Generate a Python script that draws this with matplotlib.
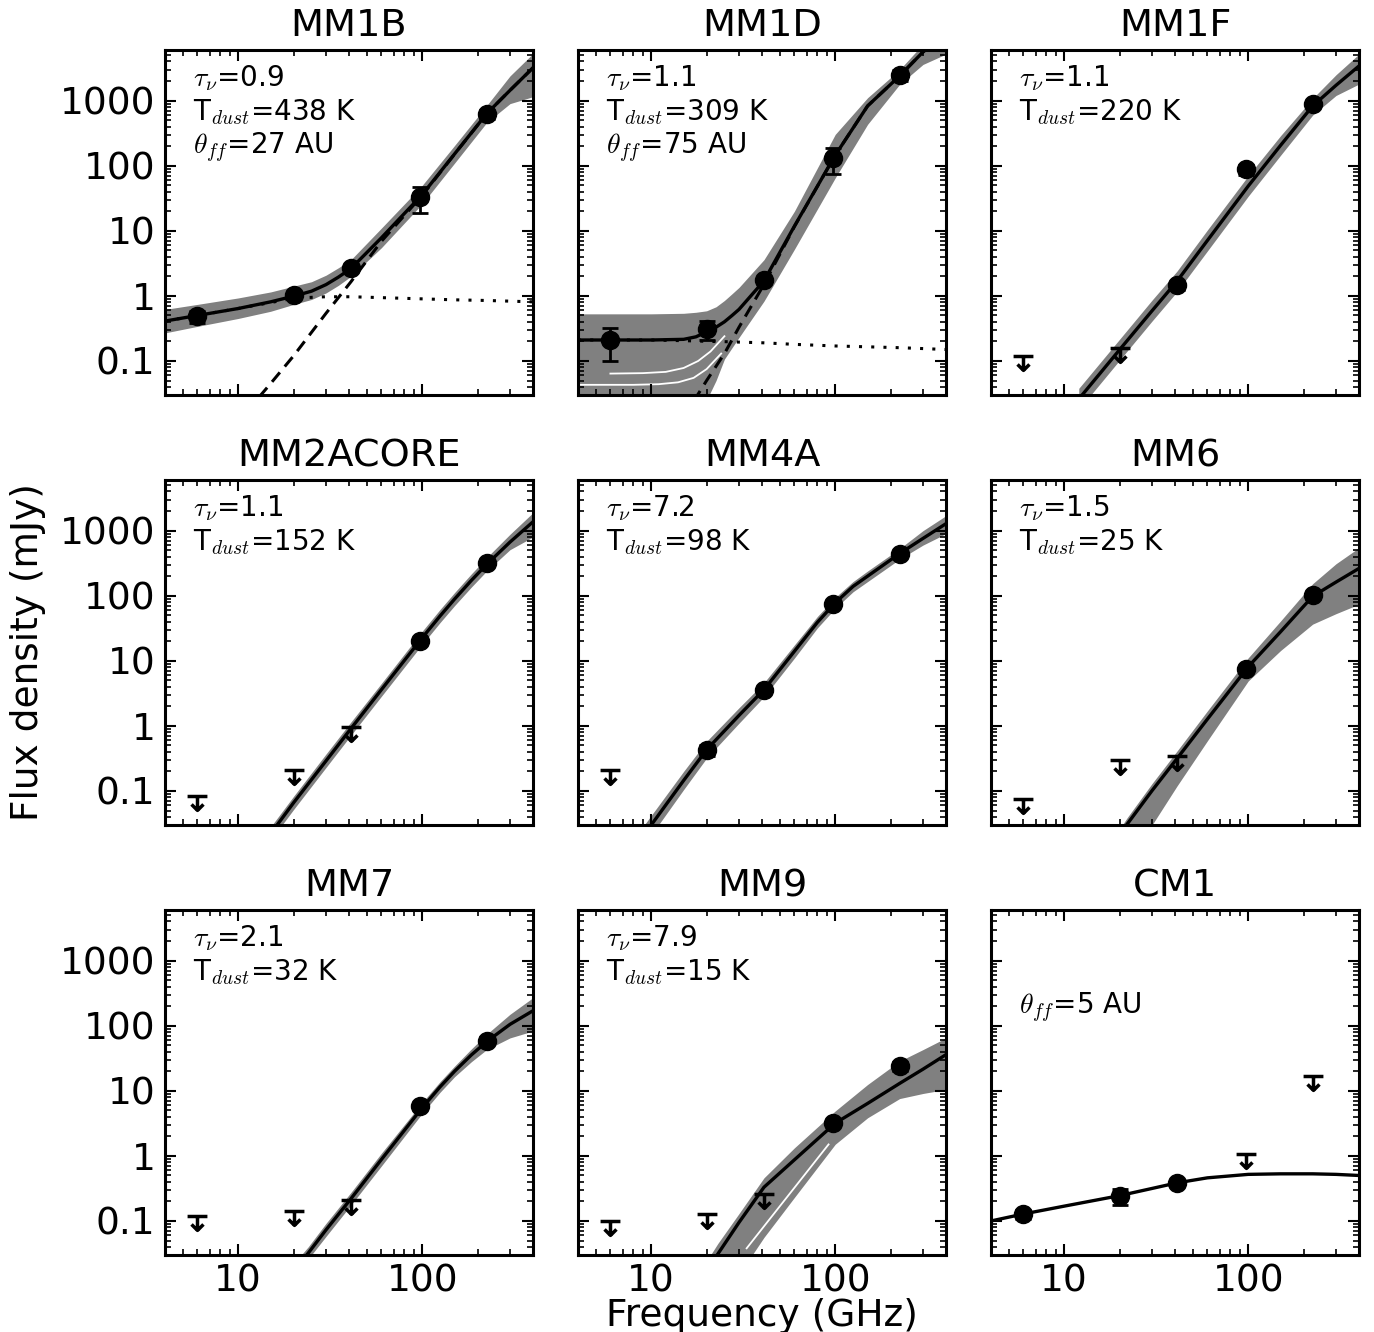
import matplotlib
matplotlib.use('Agg')
import matplotlib.pyplot as plt
from matplotlib.path import Path
from matplotlib.ticker import LogLocator, FuncFormatter, NullFormatter

plt.rcParams['font.family'] = 'DejaVu Sans'
plt.rcParams['mathtext.fontset'] = 'cm'

# ---- source names and fit parameters ----
names = ['MM1B', 'MM1D', 'MM1F', 'MM2ACORE', 'MM4A', 'MM6', 'MM7', 'MM9', 'CM1']
tau_txt = ['0.9', '1.1', '1.1', '1.1', '7.2', '1.5', '2.1', '7.9', None]
tdust_txt = ['438', '309', '220', '152', '98', '25', '32', '15', None]
theta_txt = ['27', '75', None, None, None, None, None, None, '5']

# ---- MM1B ----
mm1b_det_nu = [6.0, 20.0, 41.0, 97.0, 224.0]
mm1b_det_s = [0.49, 1.05, 2.7, 33, 630]
mm1b_det_err = [0.1, 0.1, 0.3, 14, 100]
mm1b_nu = [4, 6, 10, 15, 20, 25, 30, 35, 41, 60, 100, 150, 224, 300, 400]
mm1b_fit = [0.41, 0.50, 0.64, 0.81, 0.99, 1.18, 1.49, 1.94, 2.63, 7.8, 36, 152, 630, 1440, 3200]
mm1b_hi = [0.62, 0.74, 0.93, 1.15, 1.41, 1.65, 2.08, 2.7, 3.6, 11, 50, 205, 840, 2400, 5300]
mm1b_lo = [0.27, 0.34, 0.45, 0.58, 0.74, 0.88, 1.11, 1.45, 2.0, 5.5, 26, 110, 460, 900, 1150]
mm1b_ff = [0.41, 0.50, 0.64, 0.79, 0.92, 0.95, 0.97, 0.97, 0.97, 0.94, 0.90, 0.87, 0.85, 0.83, 0.81]
mm1b_dust_nu = [13, 15, 20, 30, 41, 60, 100, 150, 224, 300, 400]
mm1b_dust = [0.028, 0.045, 0.12, 0.54, 1.65, 6.9, 35, 151, 629, 1440, 3200]

# ---- MM1D ----
mm1d_det_nu = [6.0, 20.0, 41.0, 97.0, 224.0]
mm1d_det_s = [0.21, 0.31, 1.74, 130, 2480]
mm1d_det_err = [0.11, 0.1, 0.15, 55, 450]
mm1d_nu = [4, 6, 10, 15, 17.5, 20, 22.5, 25, 27.5, 30, 41, 60, 100, 150, 224, 300, 400]
mm1d_fit = [0.21, 0.21, 0.21, 0.215, 0.235, 0.28, 0.33, 0.40, 0.50, 0.62, 1.7, 11.8,
            145, 830, 2400, 5600, 11000]
mm1d_hi = [0.53, 0.53, 0.53, 0.54, 0.56, 0.59, 0.68, 0.85, 1.08, 1.35, 3.6, 20,
           303, 1110, 3000, 7400, 14000]
mm1d_lo = [0.02, 0.02, 0.02, 0.02, 0.02, 0.025, 0.05, 0.107, 0.16, 0.23, 0.83, 5.2,
           65, 433, 1780, 3600, 5200]
mm1d_ff = [0.21, 0.21, 0.21, 0.205, 0.203, 0.20, 0.199, 0.198, 0.197, 0.195, 0.19, 0.18,
           0.17, 0.165, 0.16, 0.155, 0.15]
mm1d_dust_nu = [17, 20, 25, 30, 41, 60, 100, 150, 224, 300, 400]
mm1d_dust = [0.024, 0.05, 0.13, 0.33, 1.5, 11.6, 145, 830, 2400, 5600, 11000]
mm1d_gap1_nu = [4, 8, 11, 14, 17, 20, 24]
mm1d_gap1 = [0.043, 0.043, 0.044, 0.047, 0.055, 0.075, 0.13]
mm1d_gap2_nu = [6, 9, 12, 15, 18, 21, 25]
mm1d_gap2 = [0.064, 0.065, 0.068, 0.078, 0.10, 0.14, 0.24]

# ---- MM1F ----
mm1f_det_nu = [41.0, 97.0, 224.0]
mm1f_det_s = [1.45, 88, 880]
mm1f_det_err = [0.2, 15, 80]
mm1f_lim_nu = [6.0, 20.0]
mm1f_lim_s = [0.12, 0.16]
mm1f_nu = [12, 20, 30, 41, 60, 100, 150, 224, 300, 400]
mm1f_fit = [0.026, 0.149, 0.59, 1.68, 7.1, 48.7, 206, 828, 1720, 3410]
mm1f_hi = [0.038, 0.216, 0.86, 2.4, 10.3, 70, 290, 1080, 2500, 5200]
mm1f_lo = [0.018, 0.103, 0.41, 1.16, 4.9, 34, 145, 600, 1200, 1800]

# ---- MM2ACORE ----
mm2a_det_nu = [97.0, 224.0]
mm2a_det_s = [20.1, 322]
mm2a_det_err = [2, 30]
mm2a_lim_nu = [6.0, 20.0, 41.0]
mm2a_lim_s = [0.085, 0.21, 0.97]
mm2a_nu = [15, 20, 30, 41, 60, 100, 125, 150, 185, 224, 300, 400]
mm2a_fit = [0.022, 0.066, 0.29, 0.91, 3.6, 22.6, 48.8, 89, 172, 303, 667, 1368]
mm2a_hi = [0.028, 0.083, 0.37, 1.15, 4.5, 28.5, 61.5, 112, 217, 385, 880, 1890]
mm2a_lo = [0.0175, 0.052, 0.23, 0.72, 2.85, 17.9, 38.7, 70.6, 136, 240, 510, 800]

# ---- MM4A ----
mm4a_det_nu = [20.0, 41.0, 97.0, 224.0]
mm4a_det_s = [0.43, 3.62, 73.6, 443]
mm4a_det_err = [0.08, 0.3, 6, 40]
mm4a_lim_nu = [6.0]
mm4a_lim_s = [0.21]
mm4a_nu = [9, 10, 15, 20, 30, 41, 60, 80, 100, 125, 150, 224, 300, 400]
mm4a_fit = [0.02, 0.03, 0.145, 0.43, 1.45, 3.6, 14, 39, 78, 139, 200, 445, 760, 1280]
mm4a_hi = [0.028, 0.042, 0.2, 0.58, 1.9, 4.6, 17.5, 48, 94, 165, 240, 530, 1000, 1700]
mm4a_lo = [0.014, 0.021, 0.105, 0.32, 1.1, 2.8, 11, 32, 64, 115, 165, 365, 600, 900]

# ---- MM6 ----
mm6_det_nu = [97.0, 224.0]
mm6_det_s = [7.5, 101]
mm6_det_err = [0.8, 12]
mm6_lim_nu = [6.0, 20.0, 41.0]
mm6_lim_s = [0.075, 0.30, 0.35]
mm6_nu = [20, 22, 30, 41, 60, 100, 150, 224, 300, 400]
mm6_fit = [0.022, 0.031, 0.101, 0.314, 1.27, 8.1, 28, 98, 162, 263]
mm6_hi = [0.026, 0.039, 0.13, 0.41, 1.7, 11.1, 41, 153, 310, 547]
mm6_lo = [0.009, 0.012, 0.03, 0.119, 0.59, 4.9, 14.4, 36.6, 53, 74]

# ---- MM7 ----
mm7_det_nu = [97.0, 224.0]
mm7_det_s = [5.8, 59]
mm7_det_err = [0.6, 7]
mm7_lim_nu = [6.0, 20.0, 41.0]
mm7_lim_s = [0.12, 0.14, 0.21]
mm7_nu = [22, 24, 30, 41, 60, 100, 125, 150, 185, 224, 300, 400]
mm7_fit = [0.0236, 0.032, 0.073, 0.22, 0.88, 5.5, 11.5, 20, 35.6, 57, 105, 170]
mm7_hi = [0.03, 0.04, 0.092, 0.275, 1.1, 6.6, 13.8, 24, 44, 74, 150, 270]
mm7_lo = [0.019, 0.026, 0.058, 0.176, 0.7, 4.5, 9.5, 16.5, 28, 43, 65, 83]

# ---- MM9 ----
mm9_det_nu = [97.0, 224.0]
mm9_det_s = [3.2, 23.9]
mm9_det_err = [0.35, 3.5]
mm9_lim_nu = [6.0, 20.0, 41.0]
mm9_lim_s = [0.10, 0.13, 0.26]
mm9_nu = [21, 23, 30, 41, 60, 100, 150, 224, 300, 400]
mm9_fit = [0.021, 0.031, 0.095, 0.33, 0.87, 3.18, 6.4, 13.0, 21.5, 36]
mm9_hi = [0.03, 0.045, 0.13, 0.46, 1.33, 4.9, 12.5, 28.6, 43, 65]
mm9_lo = [0.005, 0.007, 0.015, 0.056, 0.23, 1.51, 3.85, 7.6, 9.1, 10.5]
mm9_gap_nu = [33, 92]
mm9_gap = [0.038, 1.5]

# ---- CM1 ----
cm1_det_nu = [6.0, 20.0, 41.0]
cm1_det_s = [0.128, 0.245, 0.385]
cm1_det_err = [0.02, 0.07, 0.04]
cm1_lim_nu = [97.0, 224.0]
cm1_lim_s = [1.07, 17]
cm1_nu = [4, 6, 10, 15, 20, 30, 41, 60, 100, 150, 224, 300, 400]
cm1_fit = [0.10, 0.128, 0.169, 0.21, 0.245, 0.316, 0.385, 0.46, 0.52, 0.53, 0.53, 0.52, 0.50]

panels = [
    dict(det=(mm1b_det_nu, mm1b_det_s, mm1b_det_err), fit=(mm1b_nu, mm1b_fit),
         band=(mm1b_lo, mm1b_hi), ff=mm1b_ff, dust=(mm1b_dust_nu, mm1b_dust)),
    dict(det=(mm1d_det_nu, mm1d_det_s, mm1d_det_err), fit=(mm1d_nu, mm1d_fit),
         band=(mm1d_lo, mm1d_hi), ff=mm1d_ff, dust=(mm1d_dust_nu, mm1d_dust),
         gaps=[(mm1d_gap1_nu, mm1d_gap1), (mm1d_gap2_nu, mm1d_gap2)]),
    dict(det=(mm1f_det_nu, mm1f_det_s, mm1f_det_err), lim=(mm1f_lim_nu, mm1f_lim_s),
         fit=(mm1f_nu, mm1f_fit), band=(mm1f_lo, mm1f_hi)),
    dict(det=(mm2a_det_nu, mm2a_det_s, mm2a_det_err), lim=(mm2a_lim_nu, mm2a_lim_s),
         fit=(mm2a_nu, mm2a_fit), band=(mm2a_lo, mm2a_hi)),
    dict(det=(mm4a_det_nu, mm4a_det_s, mm4a_det_err), lim=(mm4a_lim_nu, mm4a_lim_s),
         fit=(mm4a_nu, mm4a_fit), band=(mm4a_lo, mm4a_hi)),
    dict(det=(mm6_det_nu, mm6_det_s, mm6_det_err), lim=(mm6_lim_nu, mm6_lim_s),
         fit=(mm6_nu, mm6_fit), band=(mm6_lo, mm6_hi)),
    dict(det=(mm7_det_nu, mm7_det_s, mm7_det_err), lim=(mm7_lim_nu, mm7_lim_s),
         fit=(mm7_nu, mm7_fit), band=(mm7_lo, mm7_hi)),
    dict(det=(mm9_det_nu, mm9_det_s, mm9_det_err), lim=(mm9_lim_nu, mm9_lim_s),
         fit=(mm9_nu, mm9_fit), band=(mm9_lo, mm9_hi), gaps=[(mm9_gap_nu, mm9_gap)]),
    dict(det=(cm1_det_nu, cm1_det_s, cm1_det_err), lim=(cm1_lim_nu, cm1_lim_s),
         fit=(cm1_nu, cm1_fit)),
]

# upper limit symbol: bar with an arrow pointing down
lim_marker = Path(
    [(-1, 0), (1, 0), (0, 0), (0, -1.4), (-0.6, -0.8), (0, -1.4), (0.6, -0.8)],
    [Path.MOVETO, Path.LINETO, Path.MOVETO, Path.LINETO,
     Path.MOVETO, Path.LINETO, Path.LINETO])

fig = plt.figure(figsize=(13.74, 13.32), dpi=100)
col_left = [165, 578, 991]
row_top = [50, 480, 910]
W, H = 368, 345
fmt = FuncFormatter(lambda v, p: '%g' % v)

for i, (name, p) in enumerate(zip(names, panels)):
    r, c = divmod(i, 3)
    ax = fig.add_axes([col_left[c] / 1374, 1 - (row_top[r] + H) / 1332, W / 1374, H / 1332])
    ax.set_xscale('log')
    ax.set_yscale('log')

    nu, fit = p['fit']
    if 'band' in p:
        lo, hi = p['band']
        ax.fill_between(nu, lo, hi, color='gray', lw=0, zorder=1)
    for gnu, gs in p.get('gaps', []):
        ax.plot(gnu, gs, color='white', lw=1.3, zorder=1.5)
    if 'ff' in p:
        ax.plot(nu, p['ff'], color='k', lw=2.2, ls=(0, (1, 3)), zorder=2)
    if 'dust' in p:
        ax.plot(p['dust'][0], p['dust'][1], color='k', lw=2.2, ls=(0, (4, 2.5)), zorder=2)
    ax.plot(nu, fit, color='k', lw=2.4, zorder=3)

    dnu, ds, derr = p['det']
    ax.errorbar(dnu, ds, yerr=derr, fmt='o', color='k', ms=13, capsize=6,
                capthick=2, elinewidth=2, zorder=5)
    if 'lim' in p:
        ax.plot(p['lim'][0], p['lim'][1], ls='none', marker=lim_marker, ms=20,
                mfc='none', mec='k', mew=2.5, zorder=5)

    ax.set_xlim(4, 400)
    ax.set_ylim(0.03, 6000)
    ax.set_title(name, fontsize=27.5, pad=10)

    lines = []
    if tau_txt[i]:
        lines.append((0, r'$\tau_\nu$=' + tau_txt[i]))
    if tdust_txt[i]:
        lines.append((1, r'T$_{dust}$=' + tdust_txt[i] + ' K'))
    if theta_txt[i]:
        lines.append((2, r'$\theta_{ff}$=' + theta_txt[i] + ' AU'))
    for slot, txt in lines:
        ax.text(0.075, 0.896 - 0.0985 * slot, txt, transform=ax.transAxes,
                fontsize=20, va='baseline', ha='left')

    for axis in (ax.xaxis, ax.yaxis):
        axis.set_major_locator(LogLocator(base=10, numticks=20))
        axis.set_minor_locator(LogLocator(base=10, subs=range(2, 10), numticks=20))
        axis.set_major_formatter(fmt)
        axis.set_minor_formatter(NullFormatter())
    ax.tick_params(which='both', direction='in', top=True, right=True,
                   labelsize=27, labelbottom=(r == 2), labelleft=(c == 0))
    ax.tick_params(axis='x', pad=6)
    ax.tick_params(axis='y', pad=7)
    ax.tick_params(which='major', length=8, width=1.5)
    ax.tick_params(which='minor', length=4, width=1.2)
    for sp in ax.spines.values():
        sp.set_linewidth(2.2)

fig.text(762 / 1374, 1 - 1326 / 1332, 'Frequency (GHz)', fontsize=27,
         ha='center', va='baseline')
fig.text(28 / 1374, 1 - 652 / 1332, 'Flux density (mJy)', fontsize=27,
         ha='center', va='center', rotation=90)

fig.savefig('out.png', dpi=100)
